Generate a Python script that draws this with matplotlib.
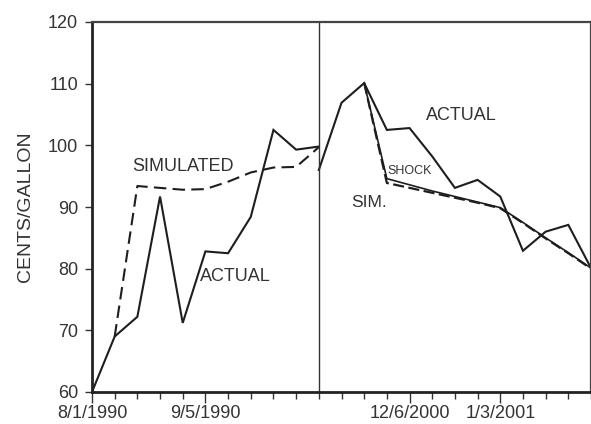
import matplotlib
matplotlib.use("Agg")
import matplotlib.pyplot as plt

# ---- data ----
x_1990 = [0, 1, 2, 3, 4, 5, 6, 7, 8, 9, 10]
actual_1990 = [60.0, 69.0, 72.2, 91.7, 71.2, 82.8, 82.5, 88.4, 102.5, 99.3, 99.8]
x_sim_1990 = [1, 2, 3, 4, 5, 6, 7, 8, 9, 10]
simulated_1990 = [69.0, 93.4, 93.1, 92.8, 92.9, 94.1, 95.6, 96.4, 96.5, 99.7]

x_2000 = [10, 11, 12, 13, 14, 15, 16, 17, 18, 19, 20, 21, 22]
actual_2000 = [96.0, 106.9, 110.1, 102.5, 102.8, 98.2, 93.1, 94.4, 91.7, 82.9, 86.0, 87.1, 80.1]
x_sim_2000 = [12, 13, 14, 15, 16, 17, 18, 19, 20, 21, 22]
sim_2000 = [110.1, 93.9, 93.1, 92.3, 91.5, 90.7, 89.8, 87.4, 84.9, 82.5, 80.0]
shock_2000 = [110.1, 94.6, 93.6, 92.6, 91.7, 90.8, 89.9, 87.5, 85.0, 82.6, 80.1]

tick_pos = list(range(0, 23))
tick_labels = {0: "8/1/1990", 5: "9/5/1990", 14: "12/6/2000", 18: "1/3/2001"}
y_ticks = [60, 70, 80, 90, 100, 110, 120]
divider_x = 10

plt.rcParams['font.family'] = ['Liberation Sans', 'DejaVu Sans']

fig = plt.figure(figsize=(5.91, 4.24), dpi=100)
ax = fig.add_axes([92/591, 1 - 392/424, 1 - 92/591, (392 - 22)/424])

lc = "#1e1e1e"
ax.plot(x_1990, actual_1990, color=lc, lw=1.5, solid_joinstyle='miter')
ax.plot(x_sim_1990, simulated_1990, color=lc, lw=1.5, dashes=(6, 3))
ax.plot(x_2000, actual_2000, color=lc, lw=1.5, solid_joinstyle='miter')
ax.plot(x_sim_2000, shock_2000, color=lc, lw=1.2)
ax.plot(x_sim_2000, sim_2000, color=lc, lw=1.6, dashes=(5, 2))
ax.axvline(divider_x, color="#333333", lw=1.0)

ax.set_xlim(0, 22)
ax.set_ylim(60, 120)
ax.set_yticks(y_ticks)
ax.set_xticks(tick_pos)
ax.set_xticklabels([tick_labels.get(p, "") for p in tick_pos])
ax.tick_params(axis='both', direction='out', colors="#333333", labelsize=13,
               length=5, width=1.0)
ax.tick_params(axis='y', pad=5)
ax.tick_params(axis='x', pad=4)
for t, p in zip(ax.xaxis.get_major_ticks(), tick_pos):
    if p in tick_labels:
        t.tick1line.set_markersize(8)

ax.set_ylabel("CENTS/GALLON", fontsize=14, color="#333333", labelpad=10)

for side in ['left', 'bottom']:
    ax.spines[side].set_linewidth(2.0)
    ax.spines[side].set_color("#222222")
ax.spines['top'].set_linewidth(1.6)
ax.spines['top'].set_color("#444444")
ax.spines['right'].set_linewidth(1.6)
ax.spines['right'].set_color("#444444")

tc = "#333333"
ax.text(4.0, 96.5, "SIMULATED", fontsize=13, color=tc, ha='center', va='center')
ax.text(6.3, 78.7, "ACTUAL", fontsize=13, color=tc, ha='center', va='center')
ax.text(16.3, 104.8, "ACTUAL", fontsize=13, color=tc, ha='center', va='center')
ax.text(14.0, 95.8, "SHOCK", fontsize=9, color=tc, ha='center', va='center')
ax.text(12.2, 90.8, "SIM.", fontsize=12.5, color=tc, ha='center', va='center')

fig.savefig("out.png", dpi=100, facecolor="white")
